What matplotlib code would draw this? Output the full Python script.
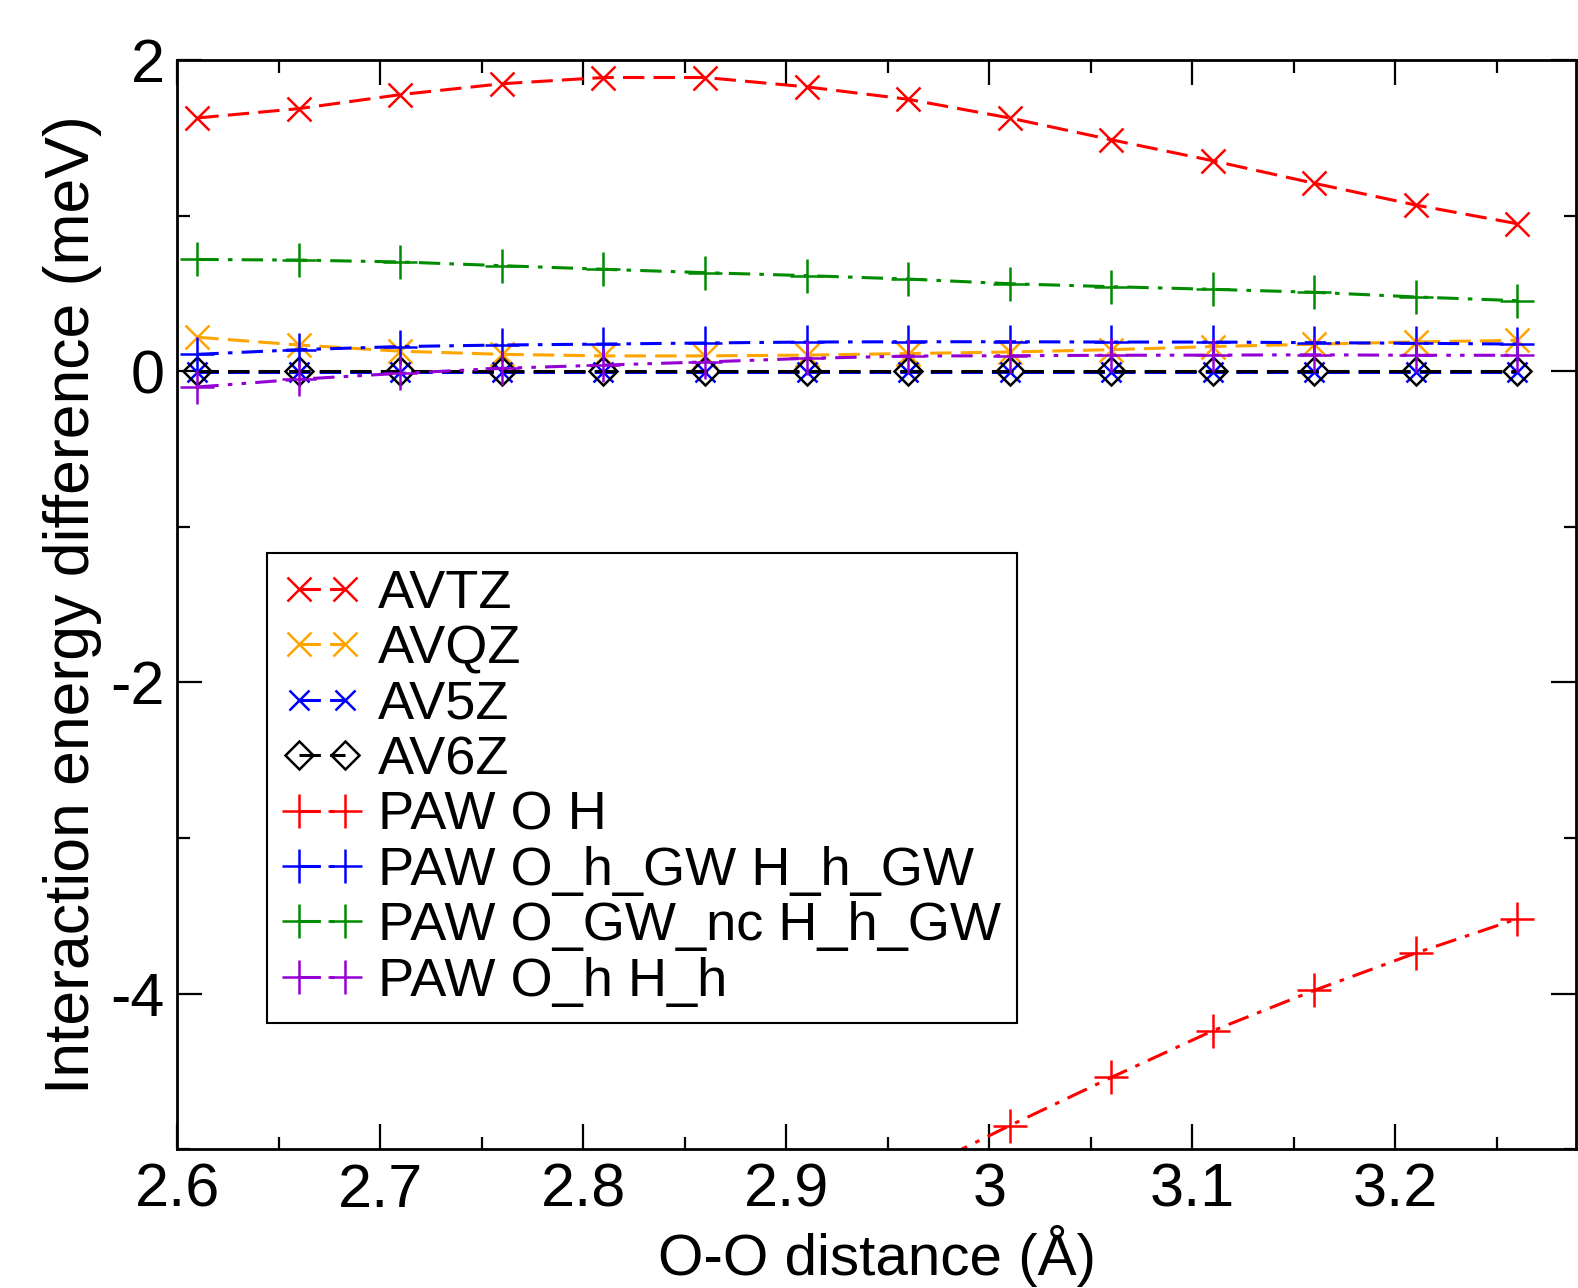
import matplotlib
matplotlib.use("Agg")
import matplotlib.pyplot as plt
from matplotlib.ticker import MultipleLocator

plt.rcParams['font.family'] = ['Liberation Sans', 'DejaVu Sans']
plt.rcParams['axes.unicode_minus'] = False

# O-O distances (Angstrom)
dist = [2.61, 2.66, 2.71, 2.76, 2.81, 2.86, 2.91, 2.96, 3.01, 3.06, 3.11, 3.16, 3.21, 3.26]

avtz = [1.63, 1.69, 1.78, 1.85, 1.89, 1.89, 1.83, 1.75, 1.63, 1.49, 1.355, 1.21, 1.07, 0.95]
avqz = [0.22, 0.17, 0.13, 0.11, 0.10, 0.10, 0.105, 0.115, 0.125, 0.14, 0.16, 0.175, 0.19, 0.20]
av5z = [-0.005, -0.005, -0.005, -0.005, -0.005, -0.005, -0.005, -0.005, -0.005, -0.005, -0.005, -0.005, -0.005, -0.005]
av6z = [0.0, 0.0, 0.0, 0.0, 0.0, 0.0, 0.0, 0.0, 0.0, 0.0, 0.0, 0.0, 0.0, 0.0]

# PAW O H only visible from 2.96 on (earlier points are below the axis)
dist_paw_oh = [2.96, 3.01, 3.06, 3.11, 3.16, 3.21, 3.26]
paw_oh = [-5.17, -4.85, -4.54, -4.24, -3.98, -3.74, -3.52]

paw_ohgw_hhgw = [0.11, 0.14, 0.16, 0.17, 0.176, 0.183, 0.189, 0.191, 0.191, 0.189, 0.189, 0.185, 0.181, 0.176]
paw_ogwnc_hhgw = [0.72, 0.716, 0.704, 0.68, 0.657, 0.635, 0.616, 0.594, 0.564, 0.545, 0.528, 0.509, 0.479, 0.455]
paw_oh_hh = [-0.10, -0.05, -0.012, 0.02, 0.041, 0.061, 0.084, 0.099, 0.101, 0.104, 0.105, 0.107, 0.104, 0.104]

fig = plt.figure(figsize=(15.78, 12.88), dpi=100)
ax = fig.add_axes([0.1122, 0.1079, 0.8866, 0.8452])

lw = 2.2
mew = 1.8
dash = (0, (7, 3))
dashdot = (0, (7, 3, 1.5, 3))
dashdotdot = (0, (7, 3, 1.5, 3, 1.5, 3))
ax.plot(dist, avtz, color='red', ls=dash, lw=lw, marker='x', ms=17, mew=mew, label='AVTZ')
ax.plot(dist, avqz, color='orange', ls=dash, lw=lw, marker='x', ms=17, mew=mew, label='AVQZ')
ax.plot(dist, av5z, color='blue', ls=dash, lw=lw, marker='x', ms=14, mew=mew, label='AV5Z')
ax.plot(dist, av6z, color='black', ls=dash, lw=lw, marker='D', ms=14, mew=mew,
        fillstyle='none', label='AV6Z')
ax.plot(dist_paw_oh, paw_oh, color='red', ls=dashdot, lw=lw, marker='+', ms=24, mew=mew,
        label='PAW O H')
ax.plot(dist, paw_ohgw_hhgw, color='blue', ls=dashdot, lw=lw, marker='+', ms=24, mew=mew,
        label='PAW O_h_GW H_h_GW')
ax.plot(dist, paw_ogwnc_hhgw, color='#008b00', ls=dashdot, lw=lw, marker='+', ms=24, mew=mew,
        label='PAW O_GW_nc H_h_GW')
ax.plot(dist, paw_oh_hh, color='#9400d3', ls=dashdotdot, lw=lw, marker='+', ms=24, mew=mew,
        label='PAW O_h H_h')

ax.set_xlim(2.6, 3.289)
ax.set_ylim(-5, 2)
ax.xaxis.set_minor_locator(MultipleLocator(0.05))
ax.yaxis.set_minor_locator(MultipleLocator(1))
ax.set_xticks([2.6, 2.7, 2.8, 2.9, 3.0, 3.1, 3.2])
ax.set_xticklabels(['2.6', '2.7', '2.8', '2.9', '3', '3.1', '3.2'])
ax.set_yticks([-4, -2, 0, 2])
ax.set_yticklabels(['-4', '-2', '0', '2'])

ax.tick_params(which='both', direction='in', top=True, right=True, width=1.6, labelsize=44)
ax.tick_params(axis='x', which='major', pad=10)
ax.tick_params(axis='y', which='major', pad=9)
ax.tick_params(which='major', length=18)
ax.tick_params(which='minor', length=9)
for sp in ax.spines.values():
    sp.set_linewidth(2)

# x label sits right at the bottom edge, like the reference
ax.set_xlabel('O-O distance (Å)', fontsize=42)
ax.xaxis.label.set_va('bottom')
ax.xaxis.set_label_coords(0.5, -(0.1079 * 1288 - 1) / (0.8452 * 1288))
ax.set_ylabel('Interaction energy difference (meV)', fontsize=45, labelpad=6)

leg = ax.legend(loc='upper left', bbox_to_anchor=(0.169, 0.571), bbox_transform=fig.transFigure,
                fontsize=39, numpoints=2, handlelength=1.45, handletextpad=0.3,
                labelspacing=0.1, borderpad=0.3, borderaxespad=0, fancybox=False, framealpha=1,
                edgecolor='black', markerscale=1.0)
leg.get_frame().set_linewidth(1.5)

fig.savefig('out.png', dpi=100)
